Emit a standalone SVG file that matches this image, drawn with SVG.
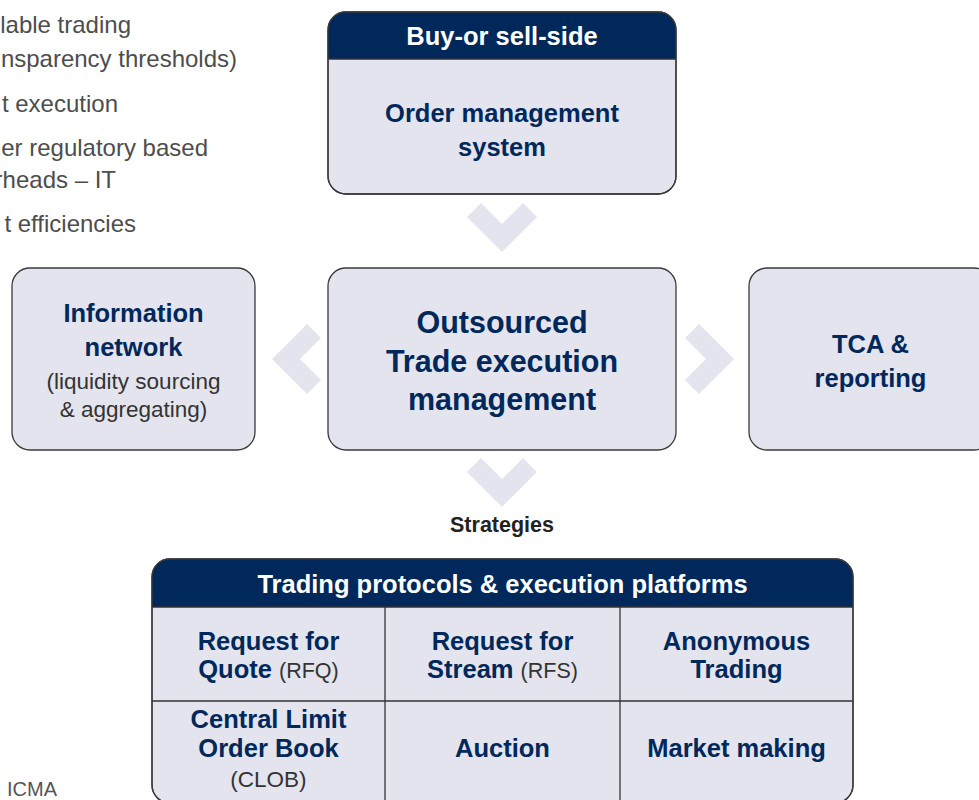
<svg xmlns="http://www.w3.org/2000/svg" width="979" height="800" viewBox="0 0 979 800">
  <style>
    .box { fill: #e3e4ed; stroke: #3a3a3a; stroke-width: 1.3; }
    .hdr { fill: #00285a; }
    .rule { stroke: #333333; stroke-width: 1.3; fill: none; }
    .chev { fill: #e3e4ed; }
    text { font-family: "Liberation Sans", Arial, sans-serif; }
    .t-hdr { fill: #ffffff; font-size: 25.5px; font-weight: bold; text-anchor: middle; }
    .t-main { fill: #00285a; font-size: 25.5px; font-weight: bold; text-anchor: middle; }
    .t-big { fill: #00285a; font-size: 30.5px; font-weight: bold; text-anchor: middle; }
    .t-note { fill: #333333; font-size: 22.5px; text-anchor: middle; }
    .t-small { fill: #333333; font-size: 21.5px; font-weight: normal; }
    .t-side { fill: #4d4d4d; font-size: 24px; text-anchor: end; }
    .t-strat { fill: #222222; font-size: 21.5px; font-weight: bold; text-anchor: middle; }
    .t-src { fill: #555555; font-size: 20px; text-anchor: end; }
  </style>

  <!-- partial side-panel text running in from the left edge -->
  <g id="side-text">
    <text class="t-side" x="131" y="33">lable trading</text>
    <text class="t-side" x="237" y="67">nsparency thresholds)</text>
    <text class="t-side" x="118" y="112">t execution</text>
    <text class="t-side" x="208" y="156">er regulatory based</text>
    <text class="t-side" x="116" y="188">rheads – IT</text>
    <text class="t-side" x="136" y="232">t efficiencies</text>
  </g>

  <g id="source">
    <text class="t-src" x="57" y="796">: ICMA</text>
  </g>

  <!-- chevron connectors -->
  <g id="connectors">
    <polygon class="chev" points="467,217 481,203 502,224 523,203 537,217 502,252"/>
    <polygon class="chev" points="467,472 481,458 502,479 523,458 537,472 502,507"/>
    <polygon class="chev" points="272,359 307,324 321,338 300,359 321,380 307,394"/>
    <polygon class="chev" points="734,359 699,324 685,338 706,359 685,380 699,394"/>
  </g>

  <g id="oms">
    <rect class="box" x="328" y="12" width="348" height="182" rx="18"/>
    <path class="hdr" d="M328,59 V30 A18,18 0 0 1 346,12 H658 A18,18 0 0 1 676,30 V59 Z"/>
    <line class="rule" x1="328" y1="59" x2="676" y2="59"/>
    <rect x="328" y="12" width="348" height="182" rx="18" fill="none" stroke="#3a3a3a" stroke-width="1.3"/>
    <text class="t-hdr" x="502" y="45">Buy-or sell-side</text>
    <text class="t-main" x="502" y="122">Order management</text>
    <text class="t-main" x="502" y="156">system</text>
  </g>

  <g id="outsourced">
    <rect class="box" x="328" y="268" width="348" height="182" rx="18"/>
    <text class="t-big" x="502" y="333">Outsourced</text>
    <text class="t-big" x="502" y="372">Trade execution</text>
    <text class="t-big" x="502" y="410">management</text>
  </g>

  <g id="info-network">
    <rect class="box" x="12" y="268" width="243" height="182" rx="18"/>
    <text class="t-main" x="133.5" y="322">Information</text>
    <text class="t-main" x="133.5" y="356">network</text>
    <text class="t-note" x="133.5" y="389">(liquidity sourcing</text>
    <text class="t-note" x="133.5" y="417">&amp; aggregating)</text>
  </g>

  <g id="tca">
    <rect class="box" x="749" y="268" width="243" height="182" rx="18"/>
    <text class="t-main" x="870.5" y="353">TCA &amp;</text>
    <text class="t-main" x="870.5" y="387">reporting</text>
  </g>

  <g id="strategies">
    <text class="t-strat" x="502" y="532">Strategies</text>
  </g>

  <g id="protocols">
    <rect class="box" x="152" y="559" width="701" height="244" rx="18"/>
    <path class="hdr" d="M152,607 V577 A18,18 0 0 1 170,559 H835 A18,18 0 0 1 853,577 V607 Z"/>
    <line class="rule" x1="152" y1="607" x2="853" y2="607"/>
    <line class="rule" x1="385" y1="607" x2="385" y2="803"/>
    <line class="rule" x1="620" y1="607" x2="620" y2="803"/>
    <line class="rule" x1="152" y1="701" x2="853" y2="701"/>
    <rect x="152" y="559" width="701" height="244" rx="18" fill="none" stroke="#3a3a3a" stroke-width="1.3"/>
    <text class="t-hdr" x="502.5" y="593">Trading protocols &amp; execution platforms</text>

    <g id="rfq">
      <text class="t-main" x="268.5" y="650">Request for</text>
      <text class="t-main" x="268.5" y="678">Quote <tspan class="t-small">(RFQ)</tspan></text>
    </g>
    <g id="rfs">
      <text class="t-main" x="502.5" y="650">Request for</text>
      <text class="t-main" x="502.5" y="678">Stream <tspan class="t-small">(RFS)</tspan></text>
    </g>
    <g id="anonymous">
      <text class="t-main" x="736.5" y="650">Anonymous</text>
      <text class="t-main" x="736.5" y="678">Trading</text>
    </g>
    <g id="clob">
      <text class="t-main" x="268.5" y="728">Central Limit</text>
      <text class="t-main" x="268.5" y="757">Order Book</text>
      <text class="t-note" x="268.5" y="787">(CLOB)</text>
    </g>
    <g id="auction">
      <text class="t-main" x="502.5" y="757">Auction</text>
    </g>
    <g id="market-making">
      <text class="t-main" x="736.5" y="757">Market making</text>
    </g>
  </g>
</svg>
